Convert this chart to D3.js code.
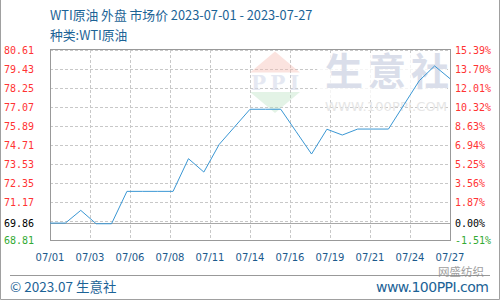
<!DOCTYPE html>
<html>
<head>
<meta charset="utf-8">
<script src="https://cdn.jsdelivr.net/npm/d3@7"></script>
<style>
  body { margin: 0; background: #fff; }
  svg { display: block; }
</style>
</head>
<body>
<div id="chart"></div>
<script>
// data
var dates = ["07/01", "07/02", "07/03", "07/04", "07/05", "07/06", "07/07", "07/08", "07/09",
    "07/10", "07/11", "07/12", "07/13", "07/14", "07/15", "07/16", "07/17", "07/18",
    "07/19", "07/20", "07/21", "07/22", "07/23", "07/24", "07/25", "07/26", "07/27"];
var prices = [69.86, 69.86, 70.65, 69.82, 69.82, 71.83, 71.83, 71.83, 71.83,
    73.86, 73.03, 74.75, 75.84, 76.93, 76.93, 76.93, 75.54, 74.15,
    75.69, 75.33, 75.70, 75.70, 75.70, 77.20, 78.70, 79.62, 78.83];
var baseValue = 69.86;
var yTicks = [80.61, 79.43, 78.25, 77.07, 75.89, 74.71, 73.53, 72.35, 71.17, 69.86, 68.81];
var yGrid = [80.61, 79.43, 78.25, 77.07, 75.89, 74.71, 73.53, 72.35, 71.17, 69.99];
var pctLabels = ["15.39%", "13.70%", "12.01%", "10.32%", "8.63%", "6.94%", "5.25%", "3.56%", "1.87%", "0.00%", "-1.51%"];
var xTickLabels = ["07/01", "07/03", "07/06", "07/08", "07/11", "07/14", "07/16", "07/19", "07/21", "07/24", "07/27"];

var svgWidth = 500;
var svgHeight = 300;
var margin = { top: 50, right: 50, bottom: 60, left: 50 };
var chartWidth = svgWidth - margin.left - margin.right;
var chartHeight = svgHeight - margin.top - margin.bottom;

var svg = d3.select("#chart")
    .append("svg")
    .attr("width", svgWidth)
    .attr("height", svgHeight);

// outer border
svg.append("path")
    .attr("d", "M0.5,0 V299.5 H499.5 V0")
    .attr("fill", "none")
    .attr("stroke", "#a0a0a0");

var chartGroup = svg.append("g")
    .attr("transform", `translate(${margin.left}, ${margin.top})`);

var xScale = d3.scaleLinear().domain([0, dates.length - 1]).range([0, chartWidth]);
var yScale = d3.scaleLinear().domain([68.81, 80.61]).range([chartHeight, 0]);

// header
svg.append("text")
    .attr("x", 50).attr("y", 20)
    .attr("font-family", "Noto Sans CJK SC")
    .attr("font-size", "12.8px")
    .style("fill", "#1c6396")
    .text("WTI原油 外盘 市场价 2023-07-01 - 2023-07-27");
svg.append("text")
    .attr("x", 50).attr("y", 40)
    .attr("font-family", "Noto Sans CJK SC")
    .attr("font-size", "12.8px")
    .style("fill", "#1c6396")
    .text("种类:WTI原油");

// grid lines
chartGroup.selectAll(".hgrid")
    .data(yGrid)
    .enter()
    .append("line")
    .attr("x1", 0).attr("x2", chartWidth)
    .attr("y1", d => Math.round(yScale(d)) + 0.5)
    .attr("y2", d => Math.round(yScale(d)) + 0.5)
    .attr("stroke", "#c8c8c8")
    .attr("stroke-dasharray", "3,2");

var xTickPos = xTickLabels.map((d, i) => i * (dates.length - 1) / (xTickLabels.length - 1));

chartGroup.selectAll(".vgrid")
    .data(xTickPos.slice(1, -1))
    .enter()
    .append("line")
    .attr("x1", d => Math.round(xScale(d)) + 0.5)
    .attr("x2", d => Math.round(xScale(d)) + 0.5)
    .attr("y1", 0).attr("y2", chartHeight)
    .attr("stroke", "#c8c8c8")
    .attr("stroke-dasharray", "3,2");

// watermark
var wm = chartGroup.append("g");
wm.append("rect")
    .attr("x", 267).attr("y", 3).attr("width", 130).attr("height", 46)
    .attr("fill", "#fff").attr("opacity", 0.8);
wm.append("path")
    .attr("d", "M225,1.5 L200,22.5 L250,22.5 Z")
    .attr("fill", "#f4b8b0").attr("opacity", 0.4);
wm.append("path")
    .attr("d", "M200,42 L250,42 L225,63 Z")
    .attr("fill", "#b8e0c0").attr("opacity", 0.4);
wm.append("text")
    .attr("x", 225).attr("y", 40)
    .attr("text-anchor", "middle")
    .attr("font-family", "DejaVu Serif")
    .attr("font-weight", "bold")
    .attr("font-size", "20px")
    .attr("textLength", 48)
    .style("fill", "#d4daea").attr("opacity", 0.6)
    .text("PPI");
wm.append("text")
    .attr("x", 275).attr("y", 35)
    .attr("font-family", "Noto Sans CJK SC")
    .attr("font-weight", "bold")
    .attr("font-size", "38px")
    .attr("letter-spacing", "5px")
    .style("fill", "#dadeea")
    .text("生意社");
wm.append("text")
    .attr("x", 336).attr("y", 61)
    .attr("text-anchor", "middle")
    .attr("font-family", "DejaVu Sans")
    .attr("font-size", "13px")
    .attr("textLength", 122)
    .style("fill", "#e6e6e6")
    .text("WWW.100PPI.COM");

// base line
chartGroup.append("line")
    .attr("x1", 0).attr("x2", chartWidth)
    .attr("y1", Math.round(yScale(baseValue)) + 0.5)
    .attr("y2", Math.round(yScale(baseValue)) + 0.5)
    .attr("stroke", "#a8a8a8");

// frame
chartGroup.append("rect")
    .attr("x", 0.5).attr("y", -0.5)
    .attr("width", chartWidth).attr("height", chartHeight + 1)
    .attr("fill", "none")
    .attr("stroke", "#999");

// price line
var line = d3.line()
    .x((d, i) => xScale(i))
    .y(d => yScale(d));

chartGroup.append("path")
    .datum(prices)
    .attr("d", line)
    .attr("fill", "none")
    .attr("stroke", "#3a97d4")
    .attr("stroke-width", 1);

// left labels
function tickColor(d) {
    if (d > baseValue) return "#ff3333";
    if (d < baseValue) return "#33aa33";
    return "#000";
}
svg.selectAll(".ylab")
    .data(yTicks)
    .enter()
    .append("text")
    .attr("x", 4)
    .attr("y", d => margin.top + yScale(d) + 4)
    .attr("font-family", "DejaVu Sans Mono")
    .attr("font-size", "10px")
    .style("fill", tickColor)
    .text(d => d.toFixed(2));

// right labels
svg.selectAll(".plab")
    .data(yTicks)
    .enter()
    .append("text")
    .attr("x", 455)
    .attr("y", d => margin.top + yScale(d) + 4)
    .attr("font-family", "DejaVu Sans Mono")
    .attr("font-size", "10px")
    .style("fill", tickColor)
    .text((d, i) => pctLabels[i]);

// x labels
svg.selectAll(".xlab")
    .data(xTickLabels)
    .enter()
    .append("text")
    .attr("x", (d, i) => margin.left + xScale(xTickPos[i]))
    .attr("y", 261)
    .attr("text-anchor", "middle")
    .attr("font-family", "DejaVu Sans")
    .attr("font-size", "10px")
    .style("fill", "#1c5a8c")
    .text(d => d);

// footer
svg.append("line")
    .attr("x1", 10).attr("x2", 490)
    .attr("y1", 275.5).attr("y2", 275.5)
    .attr("stroke", "#999");
svg.append("text")
    .attr("x", 10).attr("y", 292)
    .attr("font-family", "Noto Sans CJK SC")
    .attr("font-size", "13.5px")
    .style("fill", "#1c6396")
    .text("© 2023.07 生意社");
svg.append("text")
    .attr("x", 489).attr("y", 292)
    .attr("text-anchor", "end")
    .attr("font-family", "DejaVu Sans")
    .attr("font-size", "14px")
    .attr("textLength", 113)
    .style("fill", "#1c6396")
    .text("www.100PPI.com");
svg.append("text")
    .attr("x", 484).attr("y", 276)
    .attr("text-anchor", "end")
    .attr("font-family", "Noto Sans CJK SC")
    .attr("font-size", "11.5px")
    .style("fill", "#888")
    .attr("opacity", 0.8)
    .text("网盛纺织");
</script>
</body>
</html>
